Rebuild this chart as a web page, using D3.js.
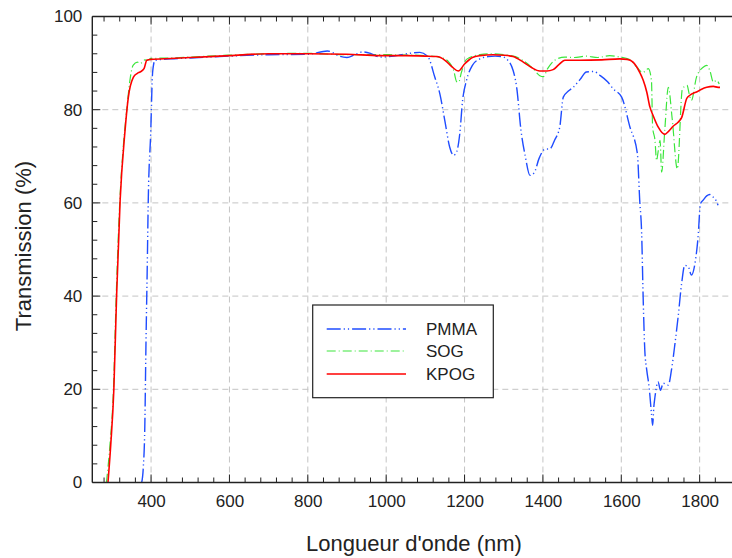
<!DOCTYPE html>
<html><head><meta charset="utf-8">
<script src="https://cdn.jsdelivr.net/npm/d3@7"></script>
<style>body{margin:0;background:#fff}svg{display:block}text{font-family:"Liberation Sans",Arial,sans-serif;fill:#222}</style>
</head><body><svg id="c" width="732" height="558"></svg>
<script>
const xTicks = [400, 600, 800, 1000, 1200, 1400, 1600, 1800];
const yTicks = [0, 20, 40, 60, 80, 100];
const seriesNames = ["PMMA", "SOG", "KPOG"];

const pmmaNm = [376,380,384,387,390,393,399,404,410,450,500,600,700,800,850,865,880,900,920,940,960,984,1020,1052,1086,1107,1124,1137,1150,1162,1172,1180,1188,1195,1205,1220,1239,1260,1278,1295,1307,1324,1333,1344,1355,1367,1378,1390,1405,1418,1430,1443,1452,1465,1477,1495,1511,1530,1545,1565,1579,1601,1622,1641,1647,1652,1656,1660,1665,1671,1677,1680,1683,1686,1694,1700,1707,1720,1728,1737,1745,1754,1762,1771,1779,1788,1796,1802,1809,1818,1826,1835,1839,1847];
const pmmaT  = [0,3,12,30,45,61.3,74.9,88.1,90.6,90.9,91.1,91.5,91.8,91.9,92.6,92.2,91.5,91.2,91.8,92.4,92.1,91.3,91.5,92,92.3,91.3,87,83.4,77.5,72,70.2,71,75,82,86.3,89.5,90.9,91.4,91.5,91.4,90.9,88.4,84.8,75.6,70,65.9,66.5,69.5,71.5,71.6,73.5,76.3,82.7,84,84.8,86.5,88.1,88.2,87.4,86,84.5,82.7,76.3,70.6,60.6,53.4,39.1,28.4,24.1,20.5,14.8,12.3,16.2,18.4,21.6,19.8,21.3,20.9,24.1,29.8,35.5,42.7,46.6,46.3,44.5,47,52.7,59.8,60.6,61.5,61.8,61.2,60.9,59.5];

const sogNm = [286,295,304,311,320,329,338,346,354,365,372,378,384,390,400,450,500,600,700,800,900,1000,1100,1140,1160,1172,1180,1185,1192,1205,1239,1270,1300,1330,1350,1375,1392,1401,1412,1430,1456,1480,1510,1540,1570,1596,1620,1640,1655,1669,1677,1680,1686,1690,1694,1699,1703,1711,1720,1730,1743,1756,1768,1773,1779,1792,1809,1818,1826,1835,1843,1850];
const sogT  = [0,8,20,40,60,72,80,86.3,89.5,90.2,89.9,90.2,90.7,90.6,91,91.1,91.3,91.7,92,92.1,91.8,91.8,91.6,91.2,90.2,88.5,86,85.9,88,90.8,91.8,92,91.8,91.4,90.5,88.8,87.3,87.1,88.8,90.6,91.3,91.2,91.5,91.2,91.6,91.3,90.8,89.1,88,88.8,86.3,76.3,73.4,69.1,71,73.4,66.6,75.6,84.8,78,67.3,84.5,85.2,83.5,82,87,89.1,89.5,88.4,85.9,86.3,85.5];

const kpogNm = [290,297,305,312,321,333,342,355,365,372,382,389,400,450,500,600,700,800,900,984,1050,1100,1129,1150,1168,1184,1200,1220,1239,1273,1300,1324,1350,1370,1392,1410,1426,1440,1456,1494,1550,1596,1615,1630,1647,1656,1665,1673,1681,1694,1711,1720,1733,1745,1754,1767,1775,1783,1792,1805,1818,1835,1847,1852];
const kpogT  = [0,8,20,40,60.5,75,82.7,87,87.8,88.1,88.8,90.6,90.8,91,91.2,91.6,92,92,91.9,91.6,91.6,91.5,91.4,90.6,89.2,88.3,89.8,91.2,91.6,91.8,91.7,91.4,90.2,89.1,88.3,88.3,88.6,89.6,90.6,90.6,90.7,90.9,90.8,90.2,88,86.3,83.8,80.6,78.8,76.3,74.7,75.3,76.5,77.3,78.3,82.4,83.1,83.5,83.8,84.4,84.8,85,84.8,84.8];

const svg = d3.select("#c");
const L = 92.3, R = 731, T = 16.5, B = 482.5;
const x = d3.scaleLinear().domain([250, 1880]).range([L, R]);
const y = d3.scaleLinear().domain([0, 100]).range([B, T]);

const grid = svg.append("g").attr("stroke", "#c4c4c4").attr("stroke-width", 1).attr("stroke-dasharray", "6,4");
xTicks.forEach(t => grid.append("line").attr("x1", x(t)).attr("x2", x(t)).attr("y1", B).attr("y2", T));
yTicks.filter(t => t > 0 && t < 100).forEach(t => grid.append("line").attr("x1", L).attr("x2", R).attr("y1", y(t)).attr("y2", y(t)));

svg.append("defs").append("clipPath").attr("id", "pc").append("rect").attr("x", L).attr("y", T).attr("width", R - L).attr("height", B - T);
const line = d3.line().x(d => x(d[0])).y(d => y(d[1])).curve(d3.curveMonotoneX);
const plot = svg.append("g").attr("clip-path", "url(#pc)");
const styles = {
  PMMA: {c: "#1f4cff", d: "14,3,1.2,3,1.2,3", w: 1.4},
  SOG: {c: "#3ce63c", d: "9,3,1,3", w: 1.2},
  KPOG: {c: "#ff0000", d: null, w: 1.6}
};
const data = {
  PMMA: pmmaNm.map((v, i) => [v, pmmaT[i]]),
  SOG: sogNm.map((v, i) => [v, sogT[i]]),
  KPOG: kpogNm.map((v, i) => [v, kpogT[i]])
};
["SOG", "PMMA", "KPOG"].forEach(n => {
  plot.append("path").datum(data[n]).attr("d", line).attr("fill", "none")
    .attr("stroke", styles[n].c).attr("stroke-width", styles[n].w)
    .attr("stroke-dasharray", styles[n].d);
});

const xb = svg.append("g").attr("transform", `translate(0,${B})`)
  .call(d3.axisBottom(x).tickValues(xTicks).tickSize(0).tickPadding(12).tickFormat(d3.format("d")));
const yl = svg.append("g").attr("transform", `translate(${L},0)`)
  .call(d3.axisLeft(y).tickValues(yTicks).tickSize(0).tickPadding(10));
[xb, yl].forEach(g => {
  g.select(".domain").remove();
  g.selectAll("text").attr("font-size", 17).attr("fill", "#222").style("font-family", '"Liberation Sans",Arial,sans-serif');
});
const minorX = d3.range(280, 1880, 40);
const minorY = d3.range(0, 101, 4);
const tk = svg.append("g").attr("stroke", "#222").attr("stroke-width", 1);
minorX.forEach(t => {
  const len = xTicks.includes(t) ? 8 : 5;
  tk.append("line").attr("x1", x(t)).attr("x2", x(t)).attr("y1", B).attr("y2", B - len);
  tk.append("line").attr("x1", x(t)).attr("x2", x(t)).attr("y1", T).attr("y2", T + len);
});
minorY.forEach(t => {
  tk.append("line").attr("x1", L).attr("x2", L + (yTicks.includes(t) ? 8 : 5)).attr("y1", y(t)).attr("y2", y(t));
});
const ax = svg.append("g").attr("stroke", "#222").attr("stroke-width", 1.4).attr("fill", "none");
ax.append("line").attr("x1", L).attr("x2", L).attr("y1", T).attr("y2", B);
ax.append("line").attr("x1", L).attr("x2", R + 2).attr("y1", B).attr("y2", B);
ax.append("line").attr("x1", L).attr("x2", R + 2).attr("y1", T).attr("y2", T);

svg.append("text").attr("x", 414).attr("y", 551).attr("text-anchor", "middle").attr("font-size", 22).text("Longueur d'onde (nm)");
svg.append("text").attr("transform", "translate(31,246) rotate(-90)").attr("text-anchor", "middle").attr("font-size", 22).text("Transmission (%)");

const lg = svg.append("g");
lg.append("rect").attr("x", 312.7).attr("y", 305).attr("width", 180.6).attr("height", 92.7).attr("fill", "#fff").attr("stroke", "#222").attr("stroke-width", 1.2);
const lgY = [329, 351, 374];
seriesNames.forEach((n, i) => {
  lg.append("line").attr("x1", 326.7).attr("x2", 406).attr("y1", lgY[i]).attr("y2", lgY[i])
    .attr("stroke", styles[n].c).attr("stroke-width", styles[n].w).attr("stroke-dasharray", styles[n].d);
  lg.append("text").attr("x", 426).attr("y", lgY[i]).attr("dy", "0.36em").attr("font-size", 17).text(n);
});
</script></body></html>
